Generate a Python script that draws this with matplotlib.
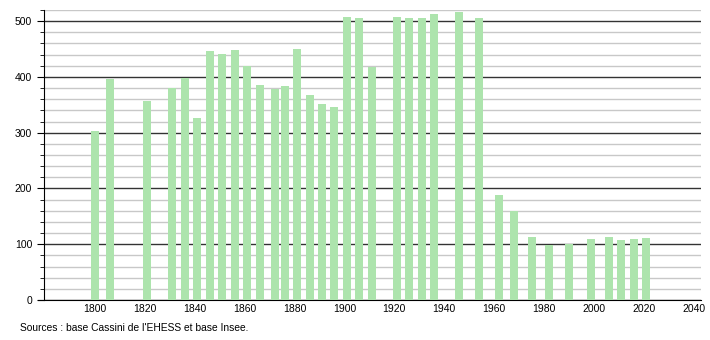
import matplotlib
matplotlib.use("Agg")
from matplotlib import pyplot as plt
from matplotlib.ticker import MultipleLocator

years = [1800, 1806, 1821, 1831, 1836, 1841, 1846, 1851, 1856, 1861, 1866,
         1872, 1876, 1881, 1886, 1891, 1896, 1901, 1906, 1911, 1921, 1926,
         1931, 1936, 1946, 1954, 1962, 1968, 1975, 1982, 1990, 1999, 2006,
         2011, 2016, 2021]
population = [303, 396, 357, 380, 398, 326, 446, 441, 449, 420, 386,
              378, 384, 450, 368, 351, 346, 508, 506, 418, 508, 506,
              506, 512, 516, 506, 188, 159, 113, 99, 101, 110, 113,
              107, 110, 112]
x_ticks = list(range(1800, 2041, 20))
source = "Sources : base Cassini de l'EHESS et base Insee."

plt.rcParams['font.family'] = ['Liberation Sans', 'DejaVu Sans']

fig = plt.figure(figsize=(7.1, 3.4), dpi=100)
ax = fig.add_axes([0.062, 0.1176, 0.925, 0.853])

ax.bar(years, population, width=3.2, color='#ade4ad', zorder=3)

ax.set_xlim(1779.6, 2042.8)
ax.set_ylim(0, 520)
ax.set_xticks(x_ticks)
ax.yaxis.set_major_locator(MultipleLocator(100))
ax.yaxis.set_minor_locator(MultipleLocator(20))
ax.grid(which='minor', axis='y', color='#c8c8c8', linewidth=1, zorder=1)
ax.grid(which='major', axis='y', color='#333333', linewidth=1, zorder=2)

for s in ['top', 'right']:
    ax.spines[s].set_visible(False)
ax.spines['left'].set_color('black')
ax.spines['bottom'].set_color('black')
ax.spines['bottom'].set_bounds(1777.2, 2042.8)
ax.tick_params(axis='x', length=0, labelsize=7.5, pad=3)
ax.tick_params(axis='y', which='major', length=5, labelsize=7.5, direction='out')
ax.tick_params(axis='y', which='minor', length=3, direction='out')

fig.text(0.028, 0.035, source, fontsize=7.4, ha='left', va='center')

fig.savefig('out.png', dpi=100)
